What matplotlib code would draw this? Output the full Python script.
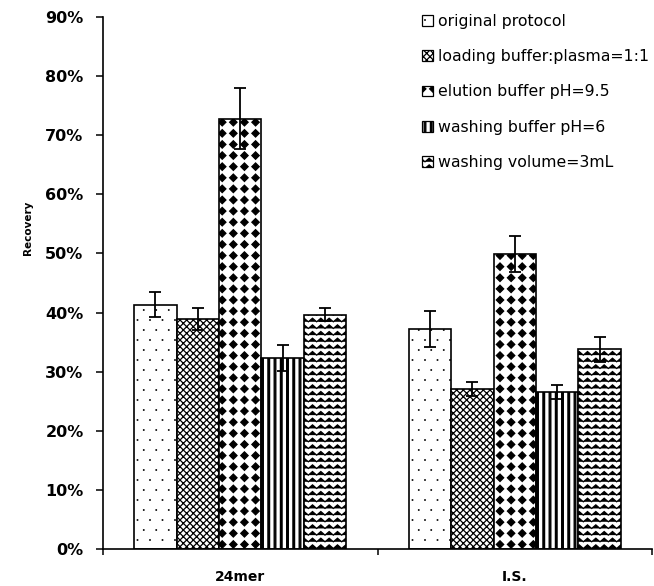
import warnings
import numpy as np
import matplotlib
matplotlib.use("Agg")
import matplotlib.pyplot as plt
from matplotlib import hatch as mhatch
from matplotlib.path import Path
from matplotlib.patches import Patch
from matplotlib.ticker import PercentFormatter

warnings.filterwarnings("ignore")

# ---- data -------------------------------------------------------------
categories = ["24mer", "I.S."]
conditions = [
    "original protocol",
    "loading buffer:plasma=1:1",
    "elution buffer pH=9.5",
    "washing buffer pH=6",
    "washing volume=3mL",
]
recovery_24mer = [41.3, 38.9, 72.8, 32.3, 39.6]
recovery_is = [37.2, 27.1, 49.9, 26.6, 33.8]
error_24mer = [2.1, 1.9, 5.2, 2.2, 1.1]
error_is = [3.1, 1.2, 3.1, 1.2, 2.1]
y_ticks = [0, 10, 20, 30, 40, 50, 60, 70, 80, 90]


# ---- custom fill patterns ---------------------------------------------
def _poly(points):
    pts = list(points) + [points[0]]
    codes = [Path.MOVETO] + [Path.LINETO] * (len(points) - 1) + [Path.CLOSEPOLY]
    return pts, codes


class _CustomHatch(mhatch.HatchPatternBase):
    key = "?"

    def __init__(self, hatch, density):
        n = hatch.count(self.key) if hatch else 0
        if n:
            verts, codes = self.build()
            self._verts = np.asarray(verts, float)
            self._codes = np.asarray(codes, dtype=Path.code_type)
            self.num_vertices = len(self._verts)
        else:
            self.num_vertices = 0

    def set_vertices_and_codes(self, vertices, codes):
        vertices[:] = self._verts
        codes[:] = self._codes

    def build(self):
        return [], []


class DotHatch(_CustomHatch):
    key = "p"

    def build(self):
        cols, rows, s = 8, 10, 0.002
        verts, codes = [], []
        for r in range(rows + 1):
            y = r / rows
            xs = np.arange(cols + 1) / cols
            if r % 2:
                xs = xs[:-1] + 0.5 / cols
            for x in xs:
                v, c = _poly([(x - s, y - s), (x + s, y - s), (x + s, y + s), (x - s, y + s)])
                verts += v
                codes += c
        return verts, codes


class DiamondHatch(_CustomHatch):
    key = "d"

    def build(self):
        n, h = 9, 0.037
        verts, codes = [], []
        for i in range(n + 1):
            for j in range(n + 1):
                x, y = i / n, j / n
                v, c = _poly([(x, y - h), (x + h, y), (x, y + h), (x - h, y)])
                verts += v
                codes += c
        return verts, codes


class StripeHatch(_CustomHatch):
    key = "s"

    def build(self):
        n, w = 16, 0.0085
        verts, codes = [], []
        for i in range(n + 1):
            x = i / n
            v, c = _poly([(x - w, -0.01), (x + w, -0.01), (x + w, 1.01), (x - w, 1.01)])
            verts += v
            codes += c
        return verts, codes


class WaveHatch(_CustomHatch):
    key = "w"

    def build(self):
        rows, periods, amp = 15, 12, 0.018
        verts, codes = [], []
        xs = np.arange(2 * periods + 1) / (2 * periods)
        for r in range(rows + 1):
            y0 = r / rows
            for k, x in enumerate(xs):
                verts.append((x, y0 + (amp if k % 2 else -amp)))
                codes.append(Path.MOVETO if k == 0 else Path.LINETO)
        return verts, codes


for _cls in (DotHatch, DiamondHatch, StripeHatch, WaveHatch):
    mhatch._hatch_types.append(_cls)

hatches = ["p", "xxxxx", "d", "s", "w"]

# ---- figure -----------------------------------------------------------
plt.rcParams["font.family"] = "DejaVu Sans"
plt.rcParams["hatch.linewidth"] = 0.9
plt.rcParams["hatch.color"] = "black"

fig = plt.figure(figsize=(6.54, 5.86), dpi=100)
ax = fig.add_axes([0.1575, 0.0631, 0.8395, 0.9079])

x = np.arange(len(categories))
width = 0.1545
values = np.array([recovery_24mer, recovery_is])
errors = np.array([error_24mer, error_is])

for i, name in enumerate(conditions):
    pos = x + (i - 2) * width
    ax.bar(pos, values[:, i], width, color="white", edgecolor="black",
           linewidth=1.2, hatch=hatches[i], zorder=2, label=name)
    ax.errorbar(pos, values[:, i], yerr=errors[:, i], fmt="none",
                ecolor="black", elinewidth=1.3, capsize=4, capthick=1.3,
                zorder=3)

ax.set_xlim(-0.5, 1.5)
ax.set_ylim(0, 90)
ax.set_yticks(y_ticks)
ax.yaxis.set_major_formatter(PercentFormatter(decimals=0))
ax.tick_params(axis="y", direction="out", length=5, width=1.1,
               labelsize=11.5, pad=9)
for lab in ax.get_yticklabels():
    lab.set_fontweight("bold")

ax.set_xticks([-0.5, 0.5, 1.5])
ax.set_xticklabels([])
ax.set_xticks(x, minor=True)
ax.set_xticklabels(categories, minor=True, fontsize=10, fontweight="bold")
ax.tick_params(axis="x", which="major", direction="out", length=4, width=1.1)
ax.tick_params(axis="x", which="minor", length=0, pad=15)

for side in ("top", "right"):
    ax.spines[side].set_visible(False)
for side in ("left", "bottom"):
    ax.spines[side].set_linewidth(1.2)

ax.set_ylabel("Recovery", fontsize=7.5, fontweight="bold")
ax.yaxis.set_label_coords(-0.1275, 0.603)

handles = [Patch(facecolor="white", edgecolor="black", linewidth=0.9,
                 hatch=h) for h in hatches]
ax.legend(handles, conditions, loc="upper left",
          bbox_to_anchor=(0.645, 1 - 14 / 586), bbox_transform=fig.transFigure,
          frameon=False, fontsize=11.3, handlelength=0.7, handleheight=0.7,
          handletextpad=0.3, labelspacing=1.29, borderpad=0, borderaxespad=0)

fig.savefig("out.png", dpi=100)
